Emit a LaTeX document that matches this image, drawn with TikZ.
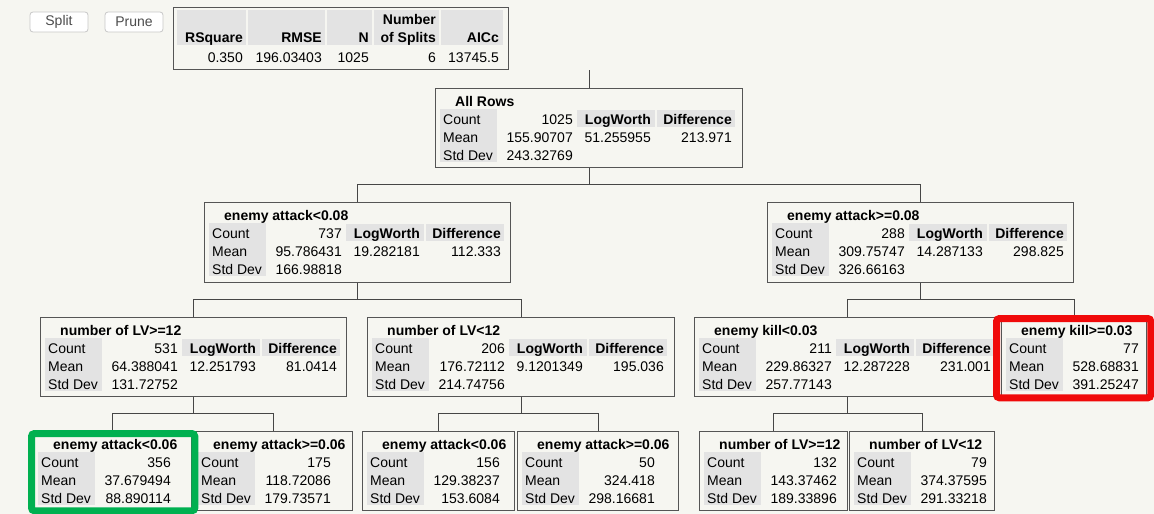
\documentclass[tikz,border=0pt]{standalone}
\usepackage{fontspec}
\setmainfont{Liberation Sans}

\definecolor{bgwhite}{RGB}{246,246,241}
\definecolor{cellgray}{RGB}{227,227,227}
\definecolor{boxgray}{RGB}{85,85,85}
\definecolor{linkgray}{RGB}{70,70,70}
\definecolor{markred}{RGB}{240,10,10}
\definecolor{markgreen}{RGB}{0,176,80}

\newcommand{\jmpfont}{\fontsize{14}{16}\selectfont}

% left part of a split box: title, Count / Mean / Std Dev
\newcommand{\statrows}[5]{%
  \fill[cellgray] ([shift={(5,21)}]#1.north west) rectangle ([shift={(62,74)}]#1.north west);
  \node[titletext] (#1-title) at ([shift={(20,18)}]#1.north west) {#2};
  \node[labeltext] (#1-countlbl) at ([shift={(8,36)}]#1.north west) {Count};
  \node[labeltext] (#1-meanlbl) at ([shift={(8,54)}]#1.north west) {Mean};
  \node[labeltext] (#1-sdlbl) at ([shift={(8,72)}]#1.north west) {Std Dev};
  \node[valtext] (#1-count) at ([shift={(138,36)}]#1.north west) {#3};
  \node[valtext] (#1-mean) at ([shift={(138,54)}]#1.north west) {#4};
  \node[valtext] (#1-sd) at ([shift={(138,72)}]#1.north west) {#5};
}

% right part of a split box: LogWorth / Difference
\newcommand{\splitcols}[3]{%
  \fill[cellgray] ([shift={(142,22)}]#1.north west) rectangle ([shift={(220,39)}]#1.north west);
  \fill[cellgray] ([shift={(222,22)}]#1.north west) rectangle ([shift={(300,39)}]#1.north west);
  \node[headtext] (#1-lwhead) at ([shift={(216,36)}]#1.north west) {LogWorth};
  \node[headtext] (#1-diffhead) at ([shift={(297,36)}]#1.north west) {Difference};
  \node[valtext] (#1-lw) at ([shift={(216,54)}]#1.north west) {#2};
  \node[valtext] (#1-diff) at ([shift={(297,54)}]#1.north west) {#3};
}

\begin{document}
\begin{tikzpicture}[x=1pt, y=-1pt,
    statbox/.style={draw=boxgray, line width=1.3pt, fill=bgwhite, inner sep=0pt,
      anchor=north west, minimum height=79pt},
    titletext/.style={font=\jmpfont\bfseries, anchor=base west, inner sep=0pt},
    labeltext/.style={font=\jmpfont, anchor=base west, inner sep=0pt},
    valtext/.style={font=\jmpfont, anchor=base east, inner sep=0pt},
    headtext/.style={font=\jmpfont\bfseries, anchor=base east, inner sep=0pt},
    button/.style={draw=black!22, fill=white, rounded corners=3pt, line width=0.8pt,
      minimum width=58pt, minimum height=20pt, inner sep=0pt,
      font=\fontsize{14}{16}\selectfont, text=black!70},
    link/.style={draw=linkgray, line width=1pt},
    hilite/.style={line width=7pt, rounded corners=3pt}]

  \fill[bgwhite] (0,0) rectangle (1154,514);
  \useasboundingbox (0,0) rectangle (1154,514);

  % buttons
  \node[button] (split) at (59,22) {Split};
  \node[button] (prune) at (134,22) {Prune};

  % fit summary
  \node[statbox, minimum width=335pt, minimum height=62pt] (fitstats) at (173,7) {};
  \fill[cellgray] (177,10) rectangle (246,45);
  \fill[cellgray] (248,10) rectangle (325,45);
  \fill[cellgray] (327,10) rectangle (372,45);
  \fill[cellgray] (374,10) rectangle (439,45);
  \fill[cellgray] (441,10) rectangle (503,45);
  \node[headtext] (rsq-h) at (243,42) {RSquare};
  \node[headtext] (rmse-h) at (322,42) {RMSE};
  \node[headtext] (n-h) at (369,42) {N};
  \node[headtext] (splits-h1) at (436,24) {Number};
  \node[headtext] (splits-h2) at (436,42) {of Splits};
  \node[headtext] (aicc-h) at (499,42) {AICc};
  \node[valtext] (rsq) at (243,62) {0.350};
  \node[valtext] (rmse) at (322,62) {196.03403};
  \node[valtext] (n) at (369,62) {1025};
  \node[valtext] (splits) at (436,62) {6};
  \node[valtext] (aicc) at (499,62) {13745.5};

  % tree boxes
  \node[statbox, minimum width=307pt] (root) at (435,88) {};
  \node[statbox, minimum width=306pt, minimum height=80pt] (atkLo) at (204,202) {};
  \node[statbox, minimum width=306pt, minimum height=80pt] (atkHi) at (767,202) {};
  \node[statbox, minimum width=306pt] (lvHi) at (40,317) {};
  \node[statbox, minimum width=307pt] (lvLo) at (367,317) {};
  \node[statbox, minimum width=305pt] (killLo) at (694,317) {};
  \node[statbox, minimum width=145pt] (killHi) at (1001,317) {};
  \node[statbox, minimum width=158pt] (lvHiAtkLo) at (33,431) {};
  \node[statbox, minimum width=159pt] (lvHiAtkHi) at (193,431) {};
  \node[statbox, minimum width=152pt] (lvLoAtkLo) at (362,431) {};
  \node[statbox, minimum width=161pt] (lvLoAtkHi) at (517,431) {};
  \node[statbox, minimum width=148pt] (killLoLvHi) at (699,431) {};
  \node[statbox, minimum width=145pt] (killLoLvLo) at (849,431) {};

  \statrows{root}{All Rows}{1025}{155.90707}{243.32769}
  \splitcols{root}{51.255955}{213.971}
  \statrows{atkLo}{enemy attack<0.08}{737}{95.786431}{166.98818}
  \splitcols{atkLo}{19.282181}{112.333}
  \statrows{atkHi}{enemy attack>=0.08}{288}{309.75747}{326.66163}
  \splitcols{atkHi}{14.287133}{298.825}
  \statrows{lvHi}{number of LV>=12}{531}{64.388041}{131.72752}
  \splitcols{lvHi}{12.251793}{81.0414}
  \statrows{lvLo}{number of LV<12}{206}{176.72112}{214.74756}
  \splitcols{lvLo}{9.1201349}{195.036}
  \statrows{killLo}{enemy kill<0.03}{211}{229.86327}{257.77143}
  \splitcols{killLo}{12.287228}{231.001}
  \statrows{killHi}{enemy kill>=0.03}{77}{528.68831}{391.25247}
  \statrows{lvHiAtkLo}{enemy attack<0.06}{356}{37.679494}{88.890114}
  \statrows{lvHiAtkHi}{enemy attack>=0.06}{175}{118.72086}{179.73571}
  \statrows{lvLoAtkLo}{enemy attack<0.06}{156}{129.38237}{153.6084}
  \statrows{lvLoAtkHi}{enemy attack>=0.06}{50}{324.418}{298.16681}
  \statrows{killLoLvHi}{number of LV>=12}{132}{143.37462}{189.33896}
  \statrows{killLoLvLo}{number of LV<12}{79}{374.37595}{291.33218}

  % connectors
  \draw[link] (root.north) -- +(0,-18);
  \draw[link] (root.south) -- +(0,16) -| (atkLo.north);
  \draw[link] (root.south) -- +(0,16) -| (atkHi.north);
  \draw[link] (atkLo.south) -- +(0,16) -| (lvHi.north);
  \draw[link] (atkLo.south) -- +(0,16) -| (lvLo.north);
  \draw[link] (atkHi.south) -- +(0,16) -| (killLo.north);
  \draw[link] (atkHi.south) -- +(0,16) -| (killHi.north);
  \draw[link] (lvHi.south) -- +(0,16) -| (lvHiAtkLo.north);
  \draw[link] (lvHi.south) -- +(0,16) -| (lvHiAtkHi.north);
  \draw[link] (lvLo.south) -- +(0,16) -| (lvLoAtkLo.north);
  \draw[link] (lvLo.south) -- +(0,16) -| (lvLoAtkHi.north);
  \draw[link] (killLo.south) -- +(0,16) -| (killLoLvHi.north);
  \draw[link] (killLo.south) -- +(0,16) -| (killLoLvLo.north);

  % highlights
  \draw[hilite, markred] ([shift={(-4.5,1.5)}]killHi.north west) rectangle ([shift={(3.5,0.5)}]killHi.south east);
  \draw[hilite, markgreen] ([shift={(-1.5,2.5)}]lvHiAtkLo.north west) rectangle ([shift={(2.5,-0.5)}]lvHiAtkLo.south east);
\end{tikzpicture}
\end{document}
